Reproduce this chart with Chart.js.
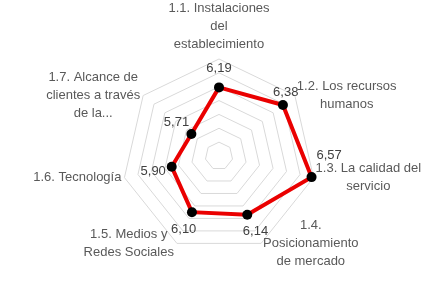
<!DOCTYPE html>
<html>
<head>
<meta charset="utf-8">
<script src="https://cdn.jsdelivr.net/npm/chart.js@4"></script>
<style>
  html, body { margin: 0; padding: 0; background: #fff; }
  #wrap { width: 437px; height: 299px; position: relative; }
</style>
</head>
<body>
<div id="wrap"><canvas id="myChart"></canvas></div>
<script>
// categories (multi-line, as in the original)
const categorias = [
  ['1.1. Instalaciones', 'del', 'establecimiento'],
  ['1.2. Los recursos', 'humanos'],
  ['1.3. La calidad del', 'servicio'],
  ['1.4.', 'Posicionamiento', 'de mercado'],
  ['1.5. Medios y', 'Redes Sociales'],
  ['1.6. Tecnología'],
  ['1.7. Alcance de', 'clientes a través', 'de la...']
];
const valores = [6.19, 6.38, 6.57, 6.14, 6.10, 5.90, 5.71];

// axis range
const escalaMin = 5.2;
const escalaMax = 6.6;
const escalaPaso = 0.2;

// little nudges for the value labels that were moved by hand
const ajusteEtiquetas = [[0, 0], [-12, -1], [-1, -26], [0, 0], [0, 0], [0, 0], [0, 0]];

const fuente = '13px "Liberation Sans", Arial, sans-serif';
const altoLinea = 17.8;

// category labels, lines centred on each other like in Excel
const etiquetasEjes = {
  id: 'etiquetasEjes',
  afterDraw(chart) {
    const scale = chart.scales.r;
    const ctx = chart.ctx;
    ctx.save();
    ctx.font = fuente;
    ctx.fillStyle = '#595959';
    ctx.textAlign = 'center';
    ctx.textBaseline = 'middle';
    categorias.forEach((lineas, i) => {
      const p = scale.getPointPosition(i, scale.drawingArea);
      const ancho = Math.max(...lineas.map(l => ctx.measureText(l).width));
      const alto = lineas.length * altoLinea;
      const dx = p.x - scale.xCenter;
      let cx, cy;
      if (Math.abs(dx) < 1) {
        cx = p.x;
        cy = p.y - 6 - alto / 2;
      } else if (dx > 0) {
        cx = p.x + 2 + ancho / 2;
        cy = p.y;
      } else {
        cx = p.x - 3 - ancho / 2;
        cy = p.y;
      }
      lineas.forEach((l, k) => {
        ctx.fillText(l, cx, cy - alto / 2 + altoLinea * (k + 0.5));
      });
    });
    ctx.restore();
  }
};

// value labels, pushed outwards from each point
const etiquetasValores = {
  id: 'etiquetasValores',
  afterDatasetsDraw(chart) {
    const scale = chart.scales.r;
    const ctx = chart.ctx;
    ctx.save();
    ctx.font = fuente;
    ctx.fillStyle = '#404040';
    ctx.textAlign = 'center';
    ctx.textBaseline = 'middle';
    valores.forEach((v, i) => {
      const p = scale.getPointPosition(i, scale.getDistanceFromCenterForValue(v) + 19);
      ctx.fillText(v.toFixed(2).replace('.', ','), p.x + ajusteEtiquetas[i][0], p.y + ajusteEtiquetas[i][1]);
    });
    ctx.restore();
  }
};

const ctx = document.getElementById('myChart').getContext('2d');
const myChart = new Chart(ctx, {
  type: 'radar',
  data: {
    labels: categorias,
    datasets: [{
      data: valores,
      borderColor: '#ea0000',
      borderWidth: 4,
      backgroundColor: 'rgba(0,0,0,0)',
      fill: false,
      pointBackgroundColor: '#000',
      pointBorderColor: '#000',
      pointRadius: 5,
      pointBorderWidth: 0,
      tension: 0
    }]
  },
  options: {
    responsive: true,
    maintainAspectRatio: false,
    animation: false,
    layout: {
      padding: { left: 122, right: 121, top: 59, bottom: 46 }
    },
    plugins: {
      legend: { display: false },
      tooltip: { enabled: false }
    },
    scales: {
      r: {
        min: escalaMin,
        max: escalaMax,
        ticks: { display: false, stepSize: escalaPaso },
        grid: { color: '#d9d9d9', lineWidth: 1 },
        angleLines: { display: false },
        pointLabels: { display: false }
      }
    }
  },
  plugins: [etiquetasEjes, etiquetasValores]
});
</script>
</body>
</html>
